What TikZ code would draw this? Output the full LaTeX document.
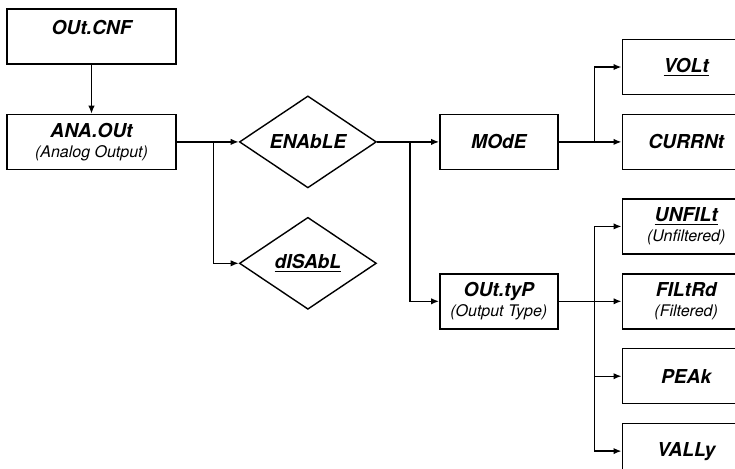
\documentclass[tikz,border=0pt]{standalone}
\usepackage{fontspec}
\setmainfont{TeX Gyre Heros}
\usetikzlibrary{positioning,arrows.meta,shapes.geometric}
\newcommand\subtxt[1]{{\mdseries\fontsize{8}{9}\selectfont #1}}

\begin{document}
\begin{tikzpicture}[font=\bfseries\itshape\fontsize{9.6}{10.2}\selectfont, line width=0.7pt,
  box/.style={draw, align=center, inner sep=2pt, minimum width=84.5pt, minimum height=27.5pt},
  midbox/.style={box, minimum width=59pt},
  optbox/.style={box, minimum width=64pt},
  choice/.style={draw, diamond, inner sep=0pt, minimum width=68.5pt, minimum height=46pt},
  arr/.style={-{Latex[length=4pt, width=3.2pt]}}]
\useasboundingbox (0,0) rectangle (367.5pt,-234pt);
\clip (0,0) rectangle (367.5pt,-234pt);
\node[box, text depth=9.5pt] (cnf) at (45.75pt,-18.25pt) {OUt.CNF};
\node[box, below=24.5pt of cnf] (ana) {ANA.OUt\\ \subtxt{(Analog Output)}};
\node[choice, right=31pt of ana] (ena) {ENAbLE};
\node[choice, below=14pt of ena] (dis) {\underline{dISAbL}};
\node[midbox, right=31pt of ena] (mode) {MOdE};
\node[midbox, below=51.5pt of mode] (typ) {OUt.tyP\\ \subtxt{(Output Type)}};
\node[optbox, right=31.5pt of mode] (curr) {CURRNt};
\node[optbox, above=9.25pt of curr] (volt) {\underline{VOLt}};
\node[optbox, right=31.5pt of typ] (fil) {FILtRd\\ \subtxt{(Filtered)}};
\node[optbox, above=9.25pt of fil] (unf) {\underline{UNFILt}\\ \subtxt{(Unfiltered)}};
\node[optbox, below=9.25pt of fil] (peak) {PEAk};
\node[optbox, below=9.25pt of peak] (val) {VALLy};
\draw[arr] (cnf) -- (ana);
\draw[arr] (ana.east) -- (ena.west);
\draw[arr] (ana.east) -- ++(18.5pt,0) |- (dis.west);
\draw[arr] (ena.east) -- (mode.west);
\draw[arr] (ena.east) -- ++(16.5pt,0) |- (typ.west);
\draw[arr] (mode.east) -- (curr.west);
\draw[arr] (mode.east) -- ++(18pt,0) |- (volt.west);
\draw[arr] (typ.east) -- (fil.west);
\draw[arr] (typ.east) -- ++(18pt,0) |- (unf.west);
\draw[arr] (typ.east) -- ++(18pt,0) |- (peak.west);
\draw[arr] (typ.east) -- ++(18pt,0) |- (val.west);
\end{tikzpicture}
\end{document}
